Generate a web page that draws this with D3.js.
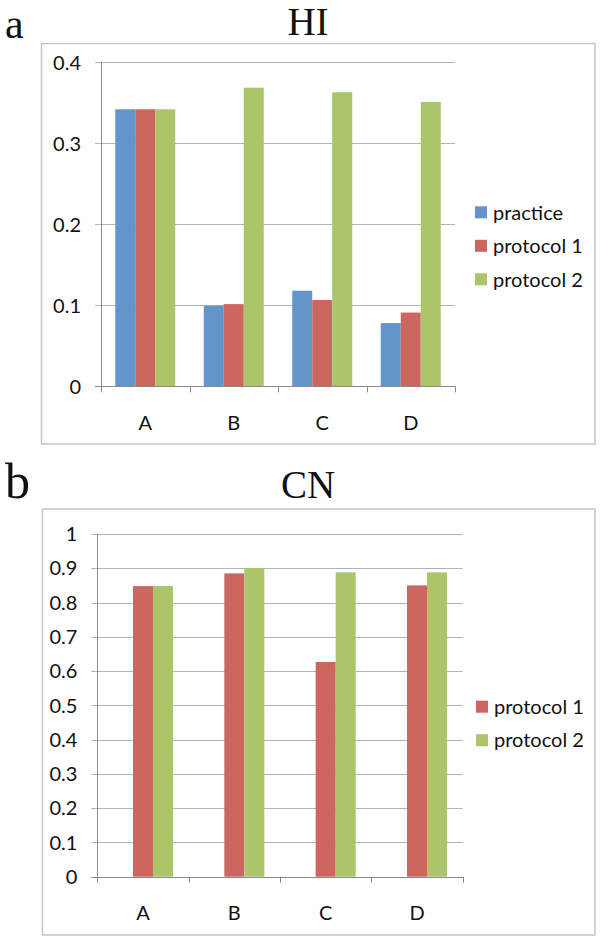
<!DOCTYPE html>
<html>
<head>
<meta charset="utf-8">
<script src="https://cdn.jsdelivr.net/npm/d3@7"></script>
<style>
html,body{margin:0;padding:0;background:#fff;}
svg{display:block;}
</style>
</head>
<body>
<svg id="chart" width="600" height="939"></svg>
<script>
// ---- data ----
const categories = ["A", "B", "C", "D"];
const seriesNames = ["practice", "protocol 1", "protocol 2"];
const seriesColors = ["#6394ca", "#cd6661", "#abc56b"];

const hiPractice  = [0.342, 0.0995, 0.118, 0.078];
const hiProtocol1 = [0.342, 0.1015, 0.1065, 0.091];
const hiProtocol2 = [0.342, 0.3687, 0.363, 0.351];
const hiTicks = [0, 0.1, 0.2, 0.3, 0.4];

const cnProtocol1 = [0.848, 0.885, 0.6265, 0.850];
const cnProtocol2 = [0.848, 0.901, 0.888, 0.888];
const cnTicks = [0, 0.1, 0.2, 0.3, 0.4, 0.5, 0.6, 0.7, 0.8, 0.9, 1];

const svg = d3.select("#chart");
const labelFont = "Lato, 'Open Sans', sans-serif";
const titleFont = "'Liberation Serif', 'DejaVu Serif', serif";
const labelSize = 20;

function panel(opt) {
  const g = svg.append("g");
  // letter
  g.append("text").attr("x", 5).attr("y", opt.letterBase)
    .attr("font-family", titleFont).attr("font-size", opt.letterSize).attr("fill", "#111")
    .text(opt.letter);
  // title
  g.append("text").attr("x", 308).attr("y", opt.titleBase)
    .attr("text-anchor", "middle")
    .attr("font-family", titleFont).attr("font-size", 39).attr("fill", "#111")
    .text(opt.title);
  // frame
  g.append("rect").attr("x", opt.frame[0]).attr("y", opt.frame[1])
    .attr("width", opt.frame[2] - opt.frame[0]).attr("height", opt.frame[3] - opt.frame[1])
    .attr("fill", "none").attr("stroke", "#c6c6c6").attr("stroke-width", 1.5);

  const x0 = d3.scaleBand().domain(categories).range([opt.left, opt.right]).paddingInner(0).paddingOuter(0);
  const bandPad = opt.bandPad;
  const x1 = d3.scaleBand().domain(seriesNames)
    .range([x0.bandwidth() * bandPad / 2, x0.bandwidth() * (1 - bandPad / 2)]);
  const y = d3.scaleLinear().domain(opt.domain).range([opt.bottom, opt.top]);

  // gridlines
  g.append("g").selectAll("line").data(opt.ticks).join("line")
    .attr("x1", opt.left - 6).attr("x2", opt.right)
    .attr("y1", d => Math.round(y(d)) + 0.5).attr("y2", d => Math.round(y(d)) + 0.5)
    .attr("stroke", d => d === 0 ? "#8a8a8a" : "#b4b4b4").attr("stroke-width", 1);

  // y axis line
  g.append("line").attr("x1", Math.round(opt.left) + 0.5).attr("x2", Math.round(opt.left) + 0.5)
    .attr("y1", y(opt.domain[1])).attr("y2", opt.bottom)
    .attr("stroke", "#8a8a8a");

  // y labels
  g.append("g").selectAll("text").data(opt.ticks).join("text")
    .attr("x", opt.left - 20).attr("y", d => y(d)).attr("dy", "0.36em")
    .attr("text-anchor", "end").attr("font-family", labelFont).attr("font-size", labelSize).attr("fill", "#111")
    .text(d => d3.format("")(d));

  // bars
  const bars = g.append("g");
  opt.series.forEach(s => {
    bars.selectAll(null).data(categories).join("rect")
      .attr("x", c => x0(c) + x1(s.name))
      .attr("width", x1.bandwidth())
      .attr("y", (c, i) => y(s.values[i]))
      .attr("height", (c, i) => opt.bottom - y(s.values[i]))
      .attr("fill", seriesColors[seriesNames.indexOf(s.name)]);
  });

  // x axis line over bars
  g.append("line").attr("x1", opt.left).attr("x2", opt.right)
    .attr("y1", Math.round(opt.bottom) + 0.5).attr("y2", Math.round(opt.bottom) + 0.5)
    .attr("stroke", "#8a8a8a");
  // x ticks
  const tickX = categories.map(c => x0(c)).concat([opt.right]);
  g.append("g").selectAll("line").data(tickX).join("line")
    .attr("x1", d => Math.round(d) + 0.5).attr("x2", d => Math.round(d) + 0.5)
    .attr("y1", opt.bottom).attr("y2", opt.bottom + 6)
    .attr("stroke", "#8a8a8a");
  // x labels
  g.append("g").selectAll("text").data(categories).join("text")
    .attr("x", c => x0(c) + x0.bandwidth() / 2).attr("y", opt.bottom + 36).attr("dy", "0.36em")
    .attr("text-anchor", "middle").attr("font-family", labelFont).attr("font-size", labelSize).attr("fill", "#111")
    .text(c => c);

  // legend
  const lg = g.append("g");
  opt.series.forEach((s, i) => {
    const cy = opt.legendY + i * 33.5;
    lg.append("rect").attr("x", opt.legendX).attr("y", cy - 6).attr("width", 12).attr("height", 12)
      .attr("fill", seriesColors[seriesNames.indexOf(s.name)]);
    lg.append("text").attr("x", opt.legendX + 18).attr("y", cy).attr("dy", "0.36em")
      .attr("font-family", labelFont).attr("font-size", labelSize).attr("fill", "#111")
      .text(s.name);
  });
}

panel({
  letter: "a", title: "HI", titleBase: 35, letterBase: 38, letterSize: 42,
  frame: [41.5, 43.5, 595, 444],
  left: 101, right: 455, top: 62.3, bottom: 386.3,
  domain: [0, 0.4], ticks: hiTicks, bandPad: 0.322,
  series: [
    {name: "practice", values: hiPractice},
    {name: "protocol 1", values: hiProtocol1},
    {name: "protocol 2", values: hiProtocol2}
  ],
  legendX: 475, legendY: 212.3
});

panel({
  letter: "b", title: "CN", titleBase: 498, letterBase: 498, letterSize: 50,
  frame: [42.5, 509, 595, 935],
  left: 97.3, right: 462.7, top: 534, bottom: 876.7,
  domain: [0, 1], ticks: cnTicks, bandPad: 0.343,
  series: [
    {name: "protocol 1", values: cnProtocol1},
    {name: "protocol 2", values: cnProtocol2}
  ],
  legendX: 476, legendY: 706.7
});
</script>
</body>
</html>
